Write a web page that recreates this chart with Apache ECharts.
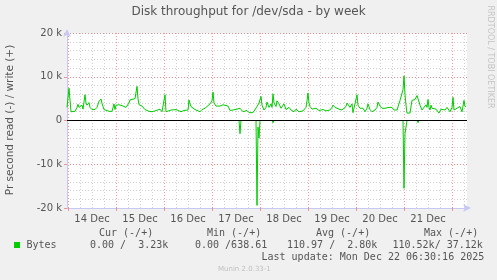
<!DOCTYPE html>
<html><head><meta charset="utf-8">
<script src="https://cdn.jsdelivr.net/npm/echarts@6/dist/echarts.min.js"></script>
<style>html,body{margin:0;padding:0;background:#f0f0f0}#c{width:497px;height:280px}</style>
</head><body><div id="c"></div>
<script>
// half-hour slots from Dec 13 23:30 to Dec 22 07:30
var slotCount = 401;
var dayLabels = ['14 Dec','15 Dec','16 Dec','17 Dec','18 Dec','19 Dec','20 Dec','21 Dec'];
var yTicks = [-20000,-10000,0,10000,20000];

var writeSlots = [0,2,4,6,8,10,11,12,13,15,16,18,19,20,22,23,25,28,30,32,34,35,37,39,42,45,47,48,49,50,52,53,55,57,59,60,62,63,65,68,69,70,71,72,73,75,76,78,80,82,84,85,88,90,93,95,97,98,99,101,104,106,109,111,114,117,119,121,122,123,124,126,128,130,133,135,138,140,143,145,146,147,149,151,153,155,156,158,161,163,164,166,168,170,171,172,173,176,178,180,182,184,186,188,190,192,194,195,197,199,200,202,204,205,206,207,209,210,212,214,215,217,219,220,222,224,226,227,229,231,232,234,236,237,239,240,241,242,243,245,247,249,250,252,254,256,257,259,261,263,265,266,268,270,272,275,277,279,280,282,283,285,286,288,290,291,293,295,296,298,300,301,303,305,307,308,310,311,313,315,316,318,320,322,323,325,327,328,330,331,333,335,336,337,338,339,340,343,345,347,348,350,351,352,353,355,357,359,360,361,362,363,364,365,367,369,370,372,374,376,378,380,381,383,385,386,387,389,390,392,393,395,397,398,399];
var writeValues = [3000,7400,2000,2000,2100,3000,3700,3000,2600,3500,2600,5900,4000,3500,4100,3000,2500,2500,3000,4400,4900,3900,2500,2200,2100,2100,3800,2500,3500,3300,3600,3200,3400,3800,3000,3300,4000,4700,5000,5000,5200,7800,5000,3600,3800,3300,3000,2500,2800,2100,2000,2000,2200,2000,2600,2000,2200,5900,2000,2100,2400,2000,2500,2200,2000,2300,2300,2400,4700,3800,3200,2800,2500,2200,2000,2500,2800,3200,3800,4500,6500,4000,3300,3500,3300,3400,3600,3200,3300,2300,2000,2400,2800,2600,2500,3000,2800,2000,1800,2300,1800,2100,1800,2000,3200,4000,5500,3500,2400,3000,4200,3000,3800,3000,6100,4000,3200,4500,3800,2800,2400,3800,2500,2400,3000,2400,2200,2000,2600,2200,2000,2300,2200,2400,3000,4500,6300,4000,3200,2600,2400,2800,2800,2300,2000,2500,2800,2200,2600,2400,3000,3500,3000,2800,2600,2400,2800,3200,4000,4200,3000,3800,1800,1800,5900,3500,2800,2400,2800,2000,2800,3800,2500,2000,2200,2400,3000,4200,3300,2800,3000,2800,3200,3000,3200,3000,2400,2000,2400,2800,4600,4600,7000,10200,6000,3500,1700,1700,4600,4600,4800,5700,5000,5000,3500,2400,2800,3600,3000,4800,3000,2400,3500,2800,2800,2600,3000,1700,2600,2200,2400,3000,3400,2000,3000,5300,2400,2600,2800,2500,3200,2000,4600,3200,3230];

var readSlots = [0,172,173,174,178,179,180,189,190,191,192,193,205,206,207,336,337,338,339,340,350,351,352,399];
var readValues = [0,0,-3000,0,0,-400,0,0,-19400,-1500,-4000,0,0,-500,0,0,-15500,-3000,-1500,0,0,-500,0,0];

function pairs(xs, ys){ return xs.map(function(x,i){ return [x, ys[i]]; }); }
var cats = []; for (var i=0;i<slotCount;i++) cats.push(String(i));

var chart = echarts.init(document.getElementById('c'), null, {renderer:'canvas'});
var green = '#00cc00';
var gridCol = '#d0d0d0';
var redCol = 'rgba(240,120,120,0.75)';
var axisCol = '#c8c8f4';
var txt = '#555';
var mono = '"DejaVu Sans Mono", monospace';
var sans = '"DejaVu Sans", sans-serif';

chart.setOption({
  backgroundColor:'#f0f0f0',
  animation:false,
  grid:{left:67,right:30,top:33,bottom:72,show:true,backgroundColor:'#ffffff',borderWidth:0},
  xAxis:[{
    type:'category', data:cats, boundaryGap:false,
    axisLine:{show:true,onZero:false,lineStyle:{color:axisCol,width:1},symbol:['none','arrow'],symbolSize:[6,8],symbolOffset:[0,4]},
    axisTick:{show:true,interval:function(i){return i%48===1;},length:3,lineStyle:{color:redCol}},
    axisLabel:{interval:function(i){return i%48===25;},formatter:function(v,i){return dayLabels[(i-25)/48];},color:txt,fontFamily:sans,fontSize:10,margin:6},
    splitLine:{show:true,interval:function(i){return i%12===1 && i%48!==1;},lineStyle:{color:gridCol,type:[1,2],width:1}}
  },{
    type:'category', data:cats, boundaryGap:false, position:'bottom',
    axisLine:{show:false,onZero:false}, axisTick:{show:false}, axisLabel:{show:false},
    splitLine:{show:true,interval:function(i){return i%48===1;},lineStyle:{color:redCol,type:[1,2],width:1}}
  }],
  yAxis:[{
    type:'value', min:-20000, max:20000, interval:2000,
    axisLine:{show:true,onZero:false,lineStyle:{color:axisCol},symbol:['none','arrow'],symbolSize:[6,8],symbolOffset:[0,4]},
    axisTick:{show:false}, axisLabel:{show:false},
    splitLine:{show:true,lineStyle:{color:gridCol,type:[1,2],width:1}}
  },{
    type:'value', min:-20000, max:20000, interval:10000, position:'left',
    axisLine:{show:false,onZero:false}, axisTick:{show:true,length:3,lineStyle:{color:redCol}},
    axisLabel:{color:txt,fontFamily:sans,fontSize:10,margin:5,formatter:function(v){return v===0?'0':(v/1000)+' k';}},
    splitLine:{show:true,lineStyle:{color:redCol,type:[1,2],width:1}}
  }],
  series:[{
    type:'line', data:pairs(writeSlots,writeValues), showSymbol:false, symbol:'none',
    lineStyle:{color:green,width:1}, itemStyle:{color:green}
  },{
    type:'line', data:pairs(readSlots,readValues), showSymbol:false, symbol:'none',
    lineStyle:{color:green,width:1}, itemStyle:{color:green},
    markLine:{silent:true,symbol:'none',label:{show:false},lineStyle:{color:'#000',width:1,type:'solid'},data:[{yAxis:0}]}
  }],
  graphic:[
    {type:'text',left:'center',top:6,style:{text:'Disk throughput for /dev/sda - by week',font:'12px '+sans,fill:txt}},
    {type:'text',x:10,y:120,rotation:Math.PI/2,style:{text:'Pr second read (-) / write (+)',font:'10.5px '+sans,fill:txt,align:'center',verticalAlign:'middle'}},
    {type:'text',x:490,y:57,rotation:-Math.PI/2,style:{text:'RRDTOOL / TOBI OETIKER',font:'8px '+sans,fill:'#c4c4c4',align:'center',verticalAlign:'middle'}},
    {type:'text',x:99,y:233,style:{text:'Cur (-/+)',font:'10px '+mono,fill:txt,verticalAlign:'middle'}},
    {type:'text',x:207,y:233,style:{text:'Min (-/+)',font:'10px '+mono,fill:txt,verticalAlign:'middle'}},
    {type:'text',x:316,y:233,style:{text:'Avg (-/+)',font:'10px '+mono,fill:txt,verticalAlign:'middle'}},
    {type:'text',x:424,y:233,style:{text:'Max (-/+)',font:'10px '+mono,fill:txt,verticalAlign:'middle'}},
    {type:'rect',shape:{x:14,y:242,width:6,height:6},style:{fill:green}},
    {type:'text',x:26.5,y:245.5,style:{text:'Bytes',font:'10px '+mono,fill:txt,verticalAlign:'middle'}},
    {type:'text',x:90,y:245.5,style:{text:'0.00 /  3.23k',font:'10px '+mono,fill:txt,verticalAlign:'middle'}},
    {type:'text',x:195,y:245.5,style:{text:'0.00 /638.61',font:'10px '+mono,fill:txt,verticalAlign:'middle'}},
    {type:'text',x:287,y:245.5,style:{text:'110.97 /  2.80k',font:'10px '+mono,fill:txt,verticalAlign:'middle'}},
    {type:'text',x:392.5,y:245.5,style:{text:'110.52k/ 37.12k',font:'10px '+mono,fill:txt,verticalAlign:'middle'}},
    {type:'text',x:261.5,y:257.5,style:{text:'Last update: Mon Dec 22 06:30:16 2025',font:'10px '+mono,fill:txt,verticalAlign:'middle'}},
    {type:'text',x:218,y:269,style:{text:'Munin 2.0.33-1',font:'7px '+sans,fill:'#c0c0c0',verticalAlign:'middle'}}
  ]
});
</script></body></html>
